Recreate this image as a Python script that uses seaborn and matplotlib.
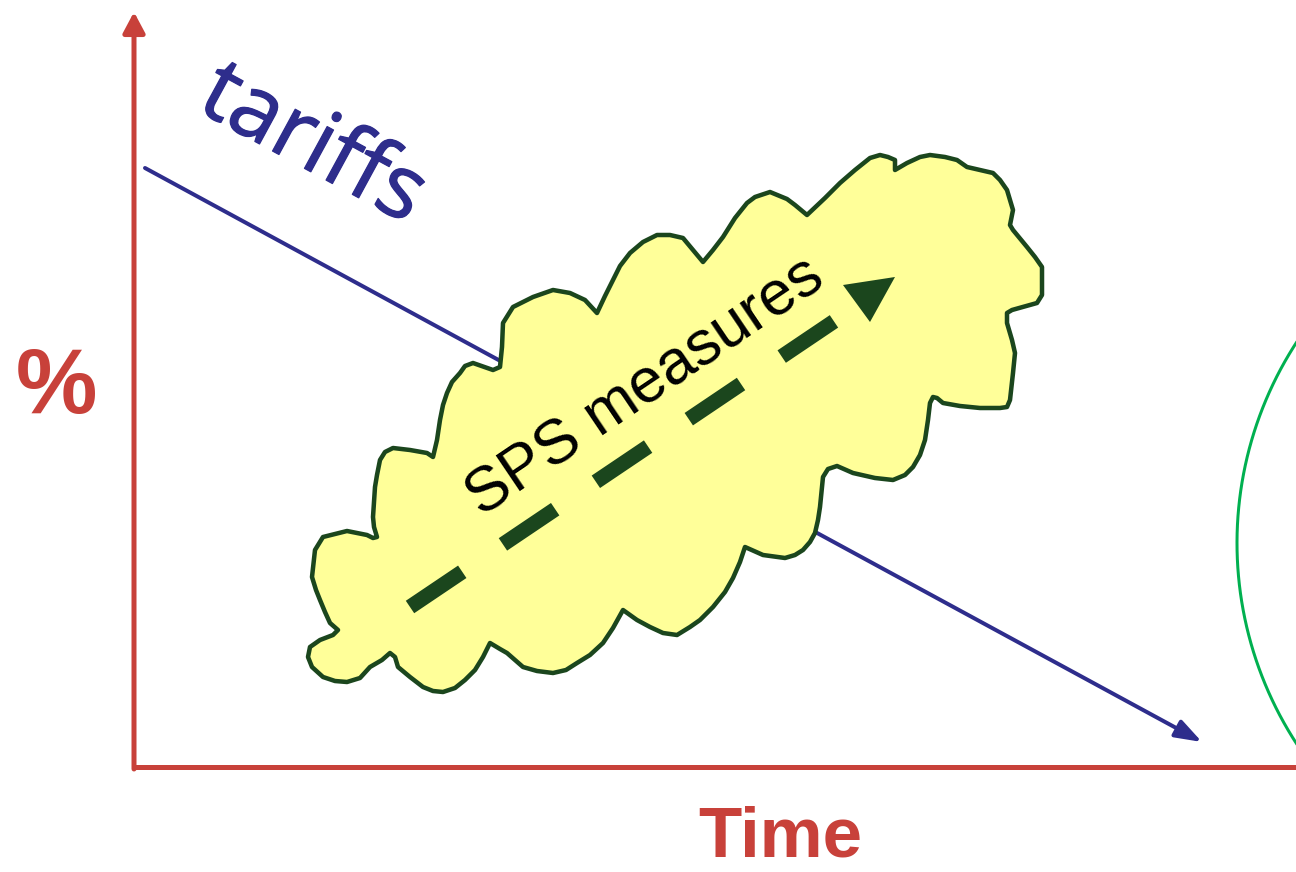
import matplotlib
matplotlib.use("Agg")
import matplotlib.pyplot as plt
import matplotlib.patheffects as pe
import seaborn as sns
import pandas as pd
import numpy as np

# coordenadas en pixeles de la imagen (x a la derecha, y hacia abajo)
ancho, alto = 1296, 872

# ejes del diagrama
eje_y_x = [134, 134]
eje_y_y = [767, 12]
eje_x_x = [134, 1296]
eje_x_y = [767, 767]

# linea de aranceles (tariffs)
tarifa_x = [145, 1202]
tarifa_y = [168, 742]

# nube de medidas SPS (contorno, pares x,y)
nube_puntos = [
    (338, 630), (333, 635), (320, 640), (310, 647), (308, 657), (312, 667), (323, 677), (335, 681),
    (347, 682), (360, 678), (370, 667), (382, 660), (390, 653), (395, 657), (398, 667), (410, 677),
    (423, 687), (433, 691), (443, 692), (455, 688), (465, 680), (475, 670), (483, 657), (490, 643),
    (500, 649), (507, 653), (523, 667), (537, 671), (553, 673), (566, 670), (577, 663), (590, 655),
    (603, 643), (613, 628), (623, 610), (637, 620), (650, 627), (663, 633), (677, 635), (690, 627),
    (700, 620), (713, 607), (725, 592), (733, 578), (740, 562), (745, 547), (763, 555), (785, 558),
    (795, 555), (803, 550), (810, 542), (815, 533), (818, 520), (820, 507), (823, 477), (828, 469),
    (837, 466), (853, 473), (875, 478), (893, 480), (905, 475), (913, 467), (920, 455), (925, 440),
    (928, 420), (930, 403), (933, 397), (937, 398), (943, 403), (960, 406), (980, 408), (1000, 408),
    (1007, 407), (1010, 400), (1013, 373), (1015, 353), (1012, 340), (1007, 323), (1007, 313),
    (1012, 310), (1037, 303), (1042, 295), (1042, 267), (1035, 257), (1027, 247), (1013, 230),
    (1010, 225), (1011, 220), (1013, 210), (1010, 200), (1007, 190), (1000, 180), (993, 173),
    (967, 167), (957, 160), (945, 157), (930, 155), (920, 157), (907, 163), (895, 170), (895, 160),
    (888, 157), (880, 155), (870, 158), (855, 170), (840, 183), (825, 198), (807, 215), (795, 205),
    (787, 199), (770, 192), (755, 197), (747, 203), (735, 218), (723, 237), (713, 250), (703, 262),
    (693, 250), (683, 238), (670, 235), (657, 235), (643, 242), (630, 253), (620, 266), (613, 280),
    (605, 296), (597, 313), (585, 300), (570, 293), (553, 290), (533, 297), (513, 307), (503, 323),
    (502, 347), (500, 367), (493, 370), (473, 363), (465, 366), (460, 373), (452, 382), (447, 393),
    (443, 405), (440, 420), (437, 440), (433, 457), (427, 453), (410, 450), (393, 448), (385, 452),
    (380, 460), (377, 475), (375, 487), (373, 517), (374, 527), (377, 537), (373, 538), (367, 535),
    (347, 531), (323, 537), (315, 550), (312, 577), (316, 590), (320, 600), (325, 612), (330, 623),
]
nube_x = [p[0] for p in nube_puntos]
nube_y = [p[1] for p in nube_puntos]

# flecha discontinua dentro de la nube
flecha_x = [410, 836]
flecha_y = [607, 320]
punta_x = [843, 895, 870]
punta_y = [285, 277, 322]

# arco verde a la derecha
arco_cx, arco_cy, arco_r = 1605, 543, 368
arco_ang = np.linspace(np.pi - 0.58, np.pi + 0.58, 200)

rojo = "#c8413a"
azul = "#2e2d8c"
verde_oscuro = "#1b461d"
amarillo = "#ffff99"
verde = "#00b050"

sns.set_theme(style="white")
plt.rcParams['font.family'] = ['Liberation Sans', 'DejaVu Sans']

fig = plt.figure(figsize=(12.96, 8.72), dpi=100)
ax = fig.add_axes([0, 0, 1, 1])
ax.set_xlim(0, ancho)
ax.set_ylim(alto, 0)
ax.axis('off')

px = 72 / 100  # puntos por pixel

# arco verde
arco = pd.DataFrame({'x': arco_cx + arco_r * np.cos(arco_ang), 'y': arco_cy + arco_r * np.sin(arco_ang)})
sns.lineplot(data=arco, x='x', y='y', sort=False, estimator=None, color=verde, lw=3 * px, ax=ax, zorder=1)

# linea de aranceles con flecha
ax.annotate('', xy=(tarifa_x[1], tarifa_y[1]), xytext=(tarifa_x[0], tarifa_y[0]),
            arrowprops=dict(arrowstyle='-|>,head_length=0.8,head_width=0.28', mutation_scale=20,
                            color=azul, lw=4 * px, shrinkA=0, shrinkB=0), zorder=2)

# ejes rojos
ax.plot(eje_x_x, eje_x_y, color=rojo, lw=5 * px, solid_capstyle='butt', zorder=3)
ax.annotate('', xy=(eje_y_x[1], eje_y_y[1]), xytext=(eje_y_x[0], eje_y_y[0] + 2),
            arrowprops=dict(arrowstyle='-|>,head_length=0.62,head_width=0.33', mutation_scale=20,
                            color=rojo, lw=5 * px, shrinkA=0, shrinkB=0), zorder=3)

# nube
ax.fill(nube_x, nube_y, facecolor=amarillo, edgecolor=verde_oscuro, lw=4.5 * px, joinstyle='round', zorder=4)

# flecha discontinua
ax.plot(flecha_x, flecha_y, color=verde_oscuro, lw=15 * px, dashes=(4.2, 3.27), dash_capstyle='butt', zorder=5)
ax.fill(punta_x, punta_y, color=verde_oscuro, lw=0, zorder=5)

# textos
ax.text(312, 146, 'tariffs', color=azul, fontsize=64, rotation=-28.5, ha='center', va='center',
        rotation_mode='anchor', family=['Open Sans', 'DejaVu Sans'], zorder=6,
        path_effects=[pe.withStroke(linewidth=0.9, foreground=azul)])
ax.text(645, 387, 'SPS measures', color='black', fontsize=45, rotation=34, ha='center', va='center',
        rotation_mode='anchor', zorder=6)
ax.text(56, 389, '%', color=rojo, fontsize=66, fontweight='bold', ha='center', va='center', zorder=6)
ax.text(780, 838, 'Time', color=rojo, fontsize=51, fontweight='bold', ha='center', va='center', zorder=6)

plt.savefig('out.png', dpi=100)
